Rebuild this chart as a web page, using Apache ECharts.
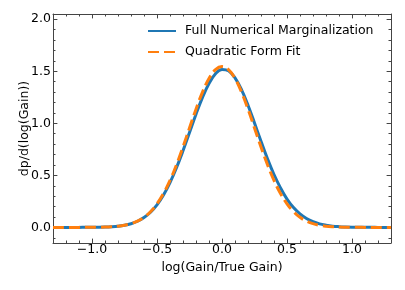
<!DOCTYPE html>
<html>
<head>
<meta charset="utf-8">
<script src="https://cdn.jsdelivr.net/npm/echarts@6/dist/echarts.min.js"></script>
<style>
html,body{margin:0;padding:0;background:#fff;}
#chart{width:405px;height:290px;}
</style>
</head>
<body>
<div id="chart"></div>
<script>
// ---- data ----
var xs = [-1.3,-1.25,-1.2,-1.15,-1.1,-1.05,-1.0,-0.95,-0.9,-0.85,-0.8,-0.75,-0.7,-0.65,-0.6,-0.55,-0.5,-0.45,-0.4,-0.35,-0.3,-0.25,-0.2,-0.15,-0.1,-0.05,0.0,
          0.05,0.1,0.15,0.2,0.25,0.3,0.35,0.4,0.45,0.5,0.55,0.6,0.65,0.7,0.75,0.8,0.85,0.9,0.95,1.0,1.05,1.1,1.15,1.2,1.25,1.3];
var fullNumerical = [0,0,0,0,0.0001,0.0003,0.0008,0.0016,0.0032,0.0062,0.0114,0.0205,0.0354,0.0589,0.0943,0.1456,0.217,0.311,0.430,0.573,0.736,0.911,1.087,1.249,1.383,1.476,1.518,
          1.505,1.437,1.323,1.174,1.003,0.827,0.658,0.508,0.380,0.272,0.190,0.130,0.086,0.055,0.034,0.021,0.012,0.007,0.004,0.002,0.001,0.0005,0.0002,0.0001,0,0];
var quadraticFit = [0,0,0,0,0.0001,0.0003,0.0007,0.0015,0.003,0.006,0.0113,0.0204,0.0357,0.060,0.097,0.151,0.226,0.326,0.451,0.602,0.773,0.955,1.136,1.300,1.431,1.516,1.545,
          1.516,1.431,1.300,1.136,0.955,0.773,0.602,0.451,0.326,0.226,0.151,0.097,0.060,0.0357,0.0204,0.0113,0.006,0.003,0.0015,0.0007,0.0003,0.0001,0,0,0,0];
var seriesNames = ['Full Numerical Marginalization', 'Quadratic Form Fit'];
var xTitle = 'log(Gain/True Gain)';
var yTitle = 'dp/d(log(Gain))';
var xMajorTicks = [-1.0,-0.5,0.0,0.5,1.0];
var xMinorTicks = [-1.3,-1.2,-1.1,-1.0,-0.9,-0.8,-0.7,-0.6,-0.5,-0.4,-0.3,-0.2,-0.1,0,0.1,0.2,0.3,0.4,0.5,0.6,0.7,0.8,0.9,1.0,1.1,1.2,1.3];
var yMajorTicks = [0.0,0.5,1.0,1.5,2.0];
var yMinorTicks = [-0.1,0,0.1,0.2,0.3,0.4,0.5,0.6,0.7,0.8,0.9,1.0,1.1,1.2,1.3,1.4,1.5,1.6,1.7,1.8,1.9,2.0];
var xRange = [-1.3, 1.3];
var yRange = [-0.15, 2.05];

// ---- chart ----
var FONT = 'DejaVu Sans';
var AX = '#444';
function fmt(v){ return v.toFixed(1).replace('-', '\u2212'); }

function xAxisDef(pos, major){
  return {
    type:'value', min:xRange[0], max:xRange[1], position:pos, gridIndex:0,
    axisLine:{show:major, onZero:false, lineStyle:{color:AX, width:1}},
    axisTick:{show:true, inside:true, length: major?4.4:2.5, customValues: major?xMajorTicks:xMinorTicks, lineStyle:{color:AX, width:1}},
    axisLabel:{show: major && pos==='bottom', customValues:xMajorTicks, formatter:fmt, fontFamily:FONT, fontSize:12.5, color:'#000', margin:0},
    splitLine:{show:false},
    name: (major && pos==='bottom') ? xTitle : '',
    nameLocation:'middle', nameGap:18, nameMoveOverlap:false,
    nameTextStyle:{fontFamily:FONT, fontSize:12.5, color:'#000'}
  };
}
function yAxisDef(pos, major){
  return {
    type:'value', min:yRange[0], max:yRange[1], position:pos, gridIndex:0,
    axisLine:{show:major, onZero:false, lineStyle:{color:AX, width:1}},
    axisTick:{show:true, inside:true, length: major?4.4:2.5, customValues: major?yMajorTicks:yMinorTicks, lineStyle:{color:AX, width:1}},
    axisLabel:{show: major && pos==='left', customValues:yMajorTicks, formatter:fmt, fontFamily:FONT, fontSize:12.5, color:'#000', margin:2},
    splitLine:{show:false},
    name: (major && pos==='left') ? yTitle : '',
    nameLocation:'middle', nameGap:22, nameMoveOverlap:false,
    nameTextStyle:{fontFamily:FONT, fontSize:12.5, color:'#000'}
  };
}

var chart = echarts.init(document.getElementById('chart'), null, {renderer:'canvas'});
chart.setOption({
  animation:false,
  backgroundColor:'#fff',
  grid:{left:53, right:14, top:14, bottom:47, containLabel:false},
  xAxis:[xAxisDef('bottom',true), xAxisDef('bottom',false), xAxisDef('top',true), xAxisDef('top',false)],
  yAxis:[yAxisDef('left',true), yAxisDef('left',false), yAxisDef('right',true), yAxisDef('right',false)],
  legend:{
    orient:'vertical', left:147, top:24.5, padding:0, itemWidth:28, itemHeight:14, itemGap:8,
    itemStyle:{opacity:0, borderWidth:0},
    textStyle:{fontFamily:FONT, fontSize:12.5, color:'#000', padding:[0,0,0,4]},
    data:seriesNames
  },
  series:[
    {name:seriesNames[0], type:'line', xAxisIndex:0, yAxisIndex:0, symbol:'none', smooth:0.4,
     lineStyle:{color:'#1f77b4', width:3}, itemStyle:{color:'#1f77b4'},
     data: xs.map(function(x,i){return [x, fullNumerical[i]];})},
    {name:seriesNames[1], type:'line', xAxisIndex:0, yAxisIndex:0, symbol:'none', smooth:0.4,
     lineStyle:{color:'#ff7f0e', width:3, type:[11,5]}, itemStyle:{color:'#ff7f0e'},
     data: xs.map(function(x,i){return [x, quadraticFit[i]];})}
  ]
});
</script>
</body>
</html>
